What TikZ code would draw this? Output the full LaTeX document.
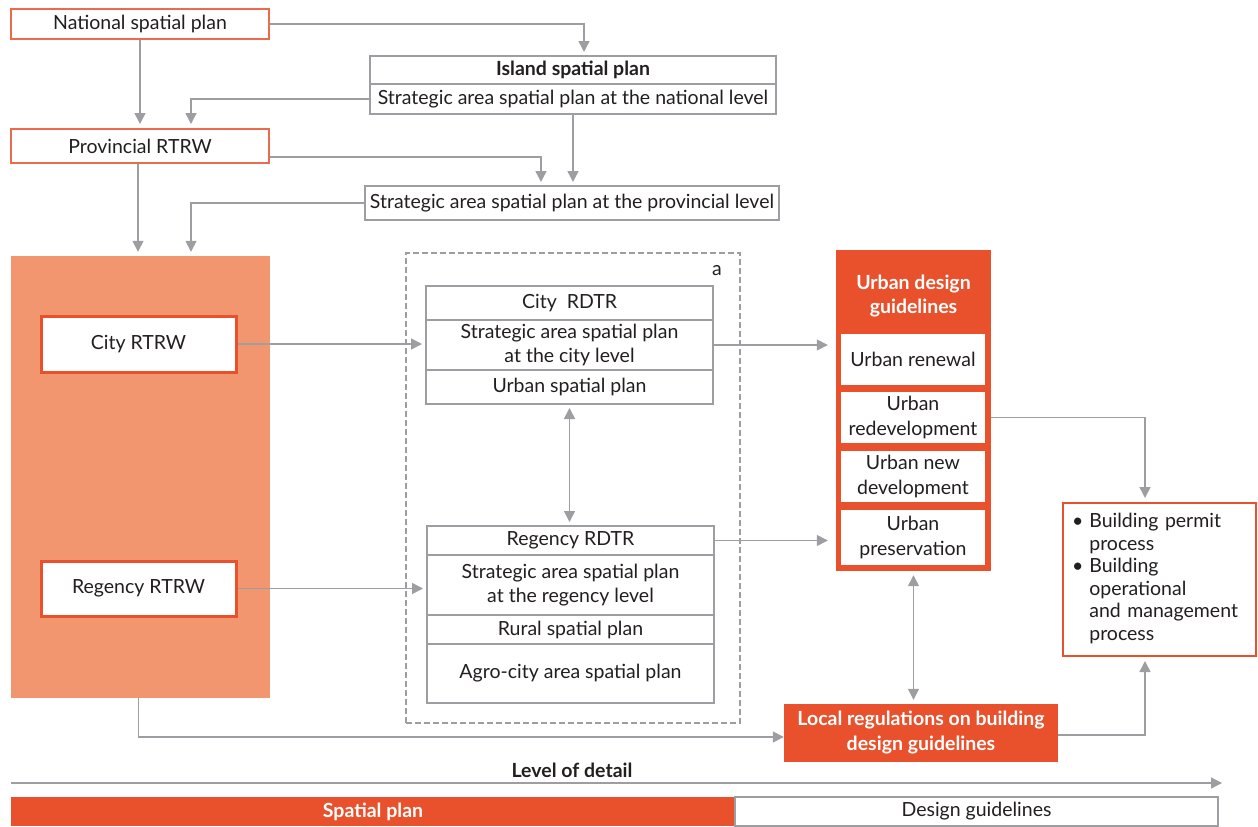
\documentclass[tikz,border=0pt]{standalone}
\usepackage{fontspec}
\setmainfont{Lato}
\usepackage{tikz}
\usetikzlibrary{arrows.meta}
\usetikzlibrary{positioning}
\definecolor{AccentColor}{RGB}{233,81,45}
\definecolor{SoftColor}{RGB}{242,150,111}
\definecolor{LineColor}{RGB}{158,158,162}
\definecolor{TextColor}{RGB}{35,31,32}
\tikzstyle{arrow} = [LineColor, line width=1.5pt, -{Triangle[length=11pt, width=11pt]}, shorten >=4pt]
\tikzstyle{twoway} = [LineColor, line width=1.5pt, {Triangle[length=11pt, width=11pt]}-{Triangle[length=11pt, width=11pt]}, shorten >=4pt, shorten <=4pt]
\tikzstyle{greybox} = [draw=LineColor, line width=2pt, fill=white, text=TextColor, align=center, inner sep=0pt, outer sep=0pt]
\tikzstyle{planbox} = [draw=AccentColor!85, line width=2pt, fill=white, text=TextColor, align=center, inner sep=0pt]
\tikzstyle{rtrwbox} = [draw=AccentColor, line width=3pt, fill=white, text=TextColor, align=center, inner sep=0pt]
\tikzstyle{typebox} = [fill=white, text=TextColor, align=center, inner sep=0pt, minimum width=144pt]
\tikzstyle{solidbox} = [fill=AccentColor, text=white, align=center, inner sep=0pt, font=\fontsize{19.5}{25}\selectfont\bfseries]

\begin{document}
\begin{tikzpicture}[x=1pt, y=-1pt, every node/.style={font=\fontsize{19.5}{24.5}\selectfont}]
\useasboundingbox (0,0) rectangle (1258,827);

% national and provincial plans
\node[planbox, minimum width=258pt, minimum height=30pt] (national) at (140,24) {National spatial plan};
\node[greybox, minimum width=406pt, minimum height=28pt, font=\fontsize{19.5}{24.5}\selectfont\bfseries] (islandtitle) at (573,70) {Island spatial plan};
\node[greybox, minimum width=406pt, minimum height=30pt, below=0pt of islandtitle] (islandsub) {Strategic area spatial plan at the national level};
\node[planbox, minimum width=258pt, minimum height=34pt] (provincial) at (140,146) {Provincial RTRW};
\node[greybox, minimum width=414pt, minimum height=34pt] (provstrat) at (572,203) {Strategic area spatial plan at the provincial level};

% city and regency level
\node[fill=SoftColor, minimum width=259pt, minimum height=442pt, inner sep=0pt] (cityregion) at (140.5,477) {};
\node[rtrwbox, minimum width=195pt, minimum height=56pt] (cityrtrw) at (138.5,344) {City RTRW};
\node[rtrwbox, minimum width=195pt, minimum height=55pt] (regrtrw) at (138.5,588.5) {Regency RTRW};

\node[draw=LineColor, dash pattern=on 6pt off 3pt, line width=1.2pt, minimum width=334pt, minimum height=470pt, inner sep=0pt] (detailzone) at (573,488) {};
\node[text=TextColor] (zonelabel) at (717,271) {a};

\node[greybox, minimum width=287pt, minimum height=34pt] (cityrdtr) at (569.5,303) {City\ \ RDTR};
\node[greybox, minimum width=287pt, minimum height=50pt, below=0pt of cityrdtr] (citystrat) {Strategic area spatial plan\\at the city level};
\node[greybox, minimum width=287pt, minimum height=34pt, below=0pt of citystrat] (cityurban) {Urban spatial plan};

\node[greybox, minimum width=287pt, minimum height=29pt] (regrdtr) at (570.5,540.5) {Regency RDTR};
\node[greybox, minimum width=287pt, minimum height=60pt, below=0pt of regrdtr] (regstrat) {Strategic area spatial plan\\at the regency level};
\node[greybox, minimum width=287pt, minimum height=29pt, below=0pt of regstrat] (rural) {Rural spatial plan};
\node[greybox, minimum width=287pt, minimum height=59pt, below=0pt of rural] (agro) {Agro-city area spatial plan};

% design guidelines
\node[solidbox, minimum width=155pt, minimum height=321pt] (udg) at (913.5,410.5) {};
\node[text=white, align=center, font=\fontsize{19.5}{24.5}\selectfont\bfseries] (udgtitle) at (913.5,296) {Urban design\\guidelines};
\node[typebox, minimum height=51pt] (renewal) at (913,359.5) {Urban renewal};
\node[typebox, minimum height=51pt] (redev) at (913,417.5) {Urban\\redevelopment};
\node[typebox, minimum height=51pt] (newdev) at (913,476.5) {Urban new\\development};
\node[typebox, minimum height=55pt] (preserve) at (913,537.5) {Urban\\preservation};

\node[solidbox, minimum width=274pt, minimum height=58pt] (localregs) at (921,733) {Local regulations on building\\design guidelines};

\node[draw=AccentColor, line width=2pt, fill=white, text=TextColor, minimum width=193pt, minimum height=153pt, inner xsep=9pt, inner ysep=0pt, text width=175pt, align=left, font=\fontsize{19.5}{22.5}\selectfont] (building) at (1159.5,579.5) {%
  \begin{tabular}{@{}l@{\hspace{6pt}}l@{}}
  \textbullet & Building permit\\
   & process\\
  \textbullet & Building\\
   & operational\\
   & and management\\
   & process
  \end{tabular}};

% level of detail scale
\node[text=TextColor, font=\fontsize{19.5}{24}\selectfont\bfseries] (detaillabel) at (572,770) {Level of detail};
\coordinate (scalestart) at (11,783);
\coordinate (scaleend) at (1222,783);
\node[solidbox, minimum width=724pt, minimum height=29pt] (spatialbar) at (373,811.5) {Spatial plan};
\node[draw=LineColor, line width=1.5pt, fill=white, text=TextColor, minimum width=483pt, minimum height=29pt, inner sep=0pt] (designbar) at (976.5,811.5) {Design guidelines};

% connectors
\draw[arrow] (national.east) -| ([xshift=11pt]islandtitle.north);
\draw[arrow] (national) -- (provincial);
\draw[arrow] (islandsub.west) -| ([xshift=51pt]provincial.north);
\draw[arrow] ([yshift=-11pt]provincial.east) -| ([xshift=-31pt]provstrat.north);
\draw[arrow] (islandsub.south) -- (islandsub.south |- provstrat.north);
\draw[arrow] (provstrat.west) -| ([xshift=50.5pt]cityregion.north);
\draw[arrow] ([xshift=-2pt]provincial.south) -- ([xshift=-2pt]provincial.south |- cityregion.north);

\draw[arrow] (cityrtrw.east) -- (cityrtrw.east -| citystrat.west);
\draw[arrow] (regrtrw.east) -- (regrtrw.east -| regstrat.west);
\draw[twoway] (cityurban.south) -- (cityurban.south |- regrdtr.north);
\draw[arrow, shorten >=8pt] (citystrat.east) -- (citystrat.east -| udg.west);
\draw[arrow, shorten >=8pt] (regrdtr.east) -- (regrdtr.east -| udg.west);

\draw[arrow] (redev.east -| udg.east) -| ([xshift=-14.5pt]building.north);
\draw[twoway] (udg.south) -- (udg.south |- localregs.north);
\draw[arrow, shorten >=0pt] ([xshift=-2pt]cityregion.south) |- ([yshift=-4pt]localregs.west);
\draw[arrow] ([yshift=-2pt]localregs.east) -| ([xshift=-14.5pt]building.south);
\draw[arrow, shorten >=0pt] (scalestart) -- (scaleend);
\end{tikzpicture}
\end{document}
